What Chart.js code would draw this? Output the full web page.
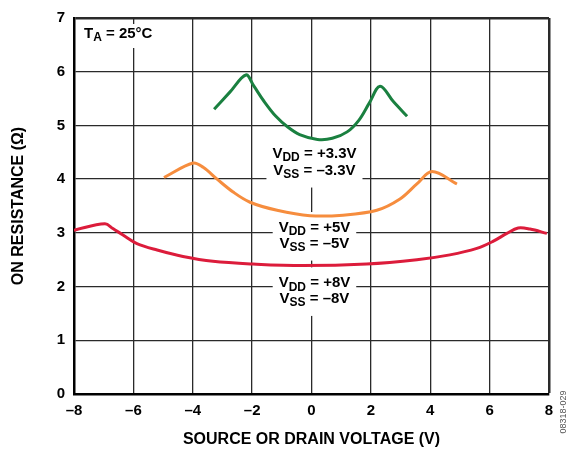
<!DOCTYPE html>
<html>
<head>
<meta charset="utf-8">
<script src="https://cdn.jsdelivr.net/npm/chart.js@4"></script>
<style>
  body { margin: 0; background: #fff; }
  canvas { display: block; }
</style>
</head>
<body>
<canvas id="ronChart" width="573" height="454"></canvas>
<script>
// source/drain voltage (V) vs on resistance (ohm)
const xGreen = [-3.28, -2.75, -2.21, -1.95, -1.6, -1.2, -0.8, -0.4, 0.2, 0.7, 1.2, 1.6, 1.95, 2.31, 2.75, 3.22];
const yGreen = [5.30, 5.62, 5.94, 5.74, 5.45, 5.17, 4.97, 4.83, 4.74, 4.76, 4.88, 5.10, 5.42, 5.73, 5.45, 5.17];

const xOrange = [-4.97, -3.99, -3.65, -3.18, -2.64, -2.07, -1.16, -0.05, 1.06, 2.2, 2.98, 3.55, 4.06, 4.9];
const yOrange = [4.03, 4.30, 4.22, 4.0, 3.76, 3.57, 3.42, 3.32, 3.33, 3.42, 3.63, 3.91, 4.14, 3.91];

const xRed = [-8.0, -6.96, -6.69, -6.35, -5.88, -5.20, -4.33, -3.32, -1.97, -0.29, 1.86, 3.55, 4.66, 5.57, 6.11, 6.58, 6.96, 7.36, 7.93];
const yRed = [3.05, 3.17, 3.08, 2.96, 2.80, 2.68, 2.56, 2.47, 2.42, 2.39, 2.42, 2.50, 2.59, 2.71, 2.84, 2.99, 3.09, 3.07, 2.99];

const xTicks = [-8, -6, -4, -2, 0, 2, 4, 6, 8];
const yTicks = [0, 1, 2, 3, 4, 5, 6, 7];

const FONT = 'Arial, "Liberation Sans", Helvetica, sans-serif';

// supply-voltage labels: text parts + anchor in data units
const curveLabels = [
  { x: 0.1, y: [4.48, 4.16], lines: [[["V"], ["DD", 1], [" = +3.3V"]], [["V"], ["SS", 1], [" = –3.3V"]]] },
  { x: 0.1, y: [3.09, 2.80], lines: [[["V"], ["DD", 1], [" = +5V"]], [["V"], ["SS", 1], [" = –5V"]]] },
  { x: 0.1, y: [2.06, 1.77], lines: [[["V"], ["DD", 1], [" = +8V"]], [["V"], ["SS", 1], [" = –8V"]]] }
];

function pts(xs, ys) {
  return xs.map((x, i) => ({ x: x, y: ys[i] }));
}

function partWidth(ctx, p) {
  ctx.font = (p[1] ? "bold 12px " : "bold 15px ") + FONT;
  return ctx.measureText(p[0]).width;
}

function lineWidthOf(ctx, parts) {
  return parts.reduce((s, p) => s + partWidth(ctx, p), 0);
}

function drawParts(ctx, parts, cx, cy) {
  let x = cx - lineWidthOf(ctx, parts) / 2;
  ctx.textAlign = "left";
  ctx.textBaseline = "middle";
  ctx.fillStyle = "#000";
  parts.forEach(p => {
    const w = partWidth(ctx, p);
    ctx.fillText(p[0], x, p[1] ? cy + 4 : cy);
    x += w;
  });
}

const labelPlugin = {
  id: "labels",
  beforeDatasetsDraw(chart) {
    const ctx = chart.ctx;
    const xs = chart.scales.x, ys = chart.scales.y;
    ctx.save();
    curveLabels.forEach(l => {
      const cx = xs.getPixelForValue(l.x);
      const y1 = ys.getPixelForValue(l.y[0]);
      const y2 = ys.getPixelForValue(l.y[1]);
      const w = Math.max(...l.lines.map(p => lineWidthOf(ctx, p))) + 12;
      ctx.fillStyle = "#fff";
      ctx.fillRect(cx - w / 2, y1 - 16, w, y2 - y1 + 33);
      l.lines.forEach((p, i) => drawParts(ctx, p, cx, i ? y2 : y1));
    });

    // temperature note, top left
    const ta = [["T"], ["A", 1], [" = 25°C"]];
    const tw = lineWidthOf(ctx, ta);
    const tx = chart.chartArea.left + 10;
    const ty = chart.chartArea.top + 16;
    ctx.fillStyle = "#fff";
    ctx.fillRect(tx - 3, ty - 10, tw + 6, 24);
    drawParts(ctx, ta, tx + tw / 2, ty);
    ctx.restore();
  },
  afterDraw(chart) {
    const ctx = chart.ctx;
    ctx.save();
    ctx.translate(564, 412);
    ctx.rotate(-Math.PI / 2);
    ctx.font = "9px " + FONT;
    ctx.fillStyle = "#555";
    ctx.textAlign = "center";
    ctx.textBaseline = "middle";
    ctx.fillText("08318-029", 0, 0);
    ctx.restore();
  }
};

function series(data, color) {
  return {
    data: data,
    showLine: true,
    borderColor: color,
    borderWidth: 3,
    pointRadius: 0,
    tension: 0.35,
    fill: false
  };
}

new Chart(document.getElementById("ronChart"), {
  type: "scatter",
  data: {
    datasets: [
      series(pts(xGreen, yGreen), "#1a8040"),
      series(pts(xOrange, yOrange), "#f68d3e"),
      series(pts(xRed, yRed), "#dc1c3b")
    ]
  },
  options: {
    responsive: false,
    animation: false,
    layout: { padding: { left: 0, right: 24, top: 14, bottom: 0 } },
    plugins: { legend: { display: false }, tooltip: { enabled: false } },
    scales: {
      x: {
        type: "linear",
        min: -8,
        max: 8,
        afterBuildTicks: s => { s.ticks = xTicks.map(v => ({ value: v })); },
        afterFit: s => { s.height = 60; },
        grid: {
          color: "#2a2a2a",
          lineWidth: c => (c.tick && c.tick.value === 8 ? 2.5 : 1.3),
          drawTicks: false
        },
        border: { color: "#000", width: 2.5 },
        ticks: {
          padding: 8,
          color: "#000",
          font: { family: FONT, size: 15, weight: "bold" },
          callback: v => (v < 0 ? "–" + Math.abs(v) : String(v))
        },
        title: {
          display: true,
          text: "SOURCE OR DRAIN VOLTAGE (V)",
          color: "#000",
          font: { family: FONT, size: 16, weight: "bold" },
          padding: { top: 0, bottom: 5 }
        }
      },
      y: {
        min: 0,
        max: 7,
        afterBuildTicks: s => { s.ticks = yTicks.map(v => ({ value: v })); },
        afterFit: s => { s.width = 74; },
        grid: {
          color: "#2a2a2a",
          lineWidth: c => (c.tick && c.tick.value === 7 ? 2.5 : 1.3),
          drawTicks: false
        },
        border: { color: "#000", width: 2.5 },
        ticks: {
          padding: 9,
          color: "#000",
          font: { family: FONT, size: 15, weight: "bold" }
        },
        title: {
          display: true,
          text: "ON RESISTANCE (Ω)",
          color: "#000",
          font: { family: FONT, size: 16, weight: "bold" },
          padding: { top: 9, bottom: 0 }
        }
      }
    }
  },
  plugins: [labelPlugin]
});
</script>
</body>
</html>
